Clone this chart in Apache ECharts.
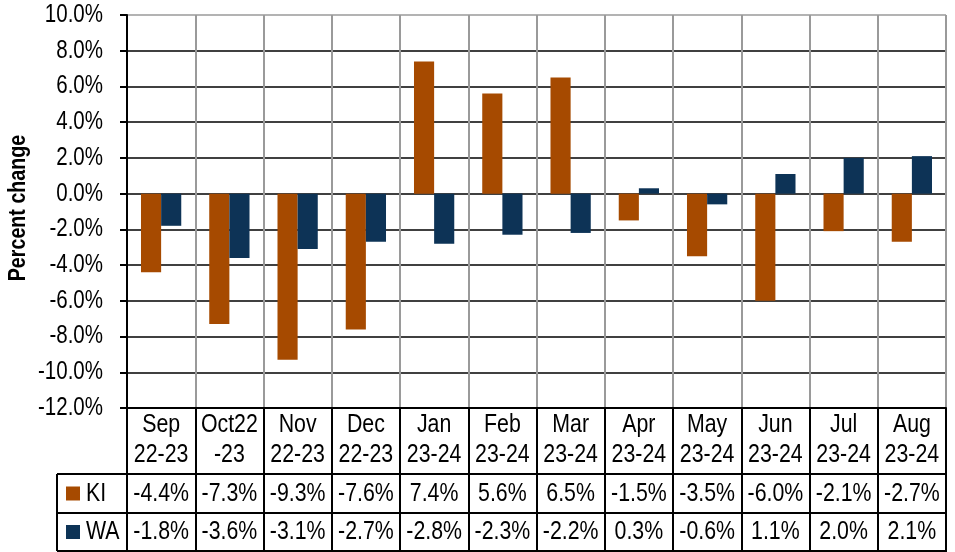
<!DOCTYPE html>
<html>
<head>
<meta charset="utf-8">
<script src="https://cdn.jsdelivr.net/npm/echarts@6/dist/echarts.min.js"></script>
<style>html,body{margin:0;padding:0;background:#fff}#c{width:955px;height:552px}</style>
</head>
<body>
<div id="c"></div>
<script>
const categories = ['Sep\n22-23','Oct22\n-23','Nov\n22-23','Dec\n22-23','Jan\n23-24','Feb\n23-24','Mar\n23-24','Apr\n23-24','May\n23-24','Jun\n23-24','Jul\n23-24','Aug\n23-24'];
const kiValues = [-4.4,-7.3,-9.3,-7.6,7.4,5.6,6.5,-1.5,-3.5,-6.0,-2.1,-2.7];
const waValues = [-1.8,-3.6,-3.1,-2.7,-2.8,-2.3,-2.2,0.3,-0.6,1.1,2.0,2.1];
const seriesNames = ['KI','WA'];
const yTitle = 'Percent change';
const colors = ['#A64A00','#0D3356'];
const yMin = -12, yMax = 10, yStep = 2;

const FONT = '"Liberation Sans", Arial, sans-serif';
const NARROW = 0.82; // reference uses a narrow sans face
const fmt = v => v.toFixed(1) + '%';
const splitColors = [];
for (let v = yMin; v <= yMax; v += yStep) splitColors.push(v === yMax ? '#9a9a9a' : '#000');

const chart = echarts.init(document.getElementById('c'));
chart.setOption({
  animation: false,
  backgroundColor: '#fff',
  grid: {left: 127, right: 9, top: 15, bottom: 144, containLabel: false, outerBoundsMode: 'none'},
  xAxis: {
    type: 'category', data: categories, position: 'bottom',
    axisLine: {show: true, onZero: false, lineStyle: {color: '#000', width: 2}},
    axisTick: {show: true, inside: false, length: 143, interval: 0, lineStyle: {color: '#000', width: 2}},
    splitLine: {show: true, interval: 0, lineStyle: {color: '#9a9a9a', width: 2}},
    axisLabel: {show: false}
  },
  yAxis: {
    type: 'value', min: yMin, max: yMax, interval: yStep,
    axisLine: {show: true, lineStyle: {color: '#000', width: 2}},
    axisTick: {show: true, inside: false, length: 7, lineStyle: {color: '#000', width: 2}},
    axisLabel: {show: false},
    splitLine: {show: true, lineStyle: {color: splitColors, width: 1.5}}
  },
  series: [
    {name: seriesNames[0], type: 'bar', data: kiValues, barGap: '0%', barCategoryGap: '41%', itemStyle: {color: colors[0]}},
    {name: seriesNames[1], type: 'bar', data: waValues, barGap: '0%', barCategoryGap: '41%', itemStyle: {color: colors[1]}}
  ]
});

function txt(text, x, y, size, align, extra) {
  return Object.assign({
    type: 'text', x: x, y: y, scaleX: NARROW, silent: true,
    style: {text: text, fontSize: size, fontFamily: FONT, fill: '#000', align: align, verticalAlign: 'middle'}
  }, extra || {});
}

const c0 = chart.convertToPixel({xAxisIndex: 0}, 0);
const c1 = chart.convertToPixel({xAxisIndex: 0}, 1);
const band = c1 - c0;
const xLeft = c0 - band / 2;
const xRight = xLeft + band * categories.length;
const yBase = chart.convertToPixel({yAxisIndex: 0}, yMin);
const rowTops = [yBase + 66, yBase + 105, yBase + 143];
const tableLeft = 57;
const g = [];

// y tick labels
for (let v = yMin; v <= yMax + 1e-9; v += yStep) {
  g.push(txt(fmt(v), xLeft - 24, chart.convertToPixel({yAxisIndex: 0}, v), 25, 'right'));
}
// y title
g.push({
  type: 'text', x: 18, y: 208, rotation: Math.PI / 2, scaleX: NARROW, silent: true,
  style: {text: yTitle, fontSize: 24, fontWeight: 'bold', fontFamily: FONT, fill: '#000', align: 'center', verticalAlign: 'middle'}
});
// header and value rows
categories.forEach((cat, i) => {
  const cx = chart.convertToPixel({xAxisIndex: 0}, i);
  const lines = cat.split('\n');
  g.push(txt(lines[0], cx, yBase + 17, 26, 'center'));
  g.push(txt(lines[1], cx, yBase + 47, 26, 'center'));
  g.push(txt(fmt(kiValues[i]), cx, (rowTops[0] + rowTops[1]) / 2, 26, 'center'));
  g.push(txt(fmt(waValues[i]), cx, (rowTops[1] + rowTops[2]) / 2, 26, 'center'));
});
// table borders
rowTops.forEach(y => g.push({type: 'line', shape: {x1: tableLeft, y1: y, x2: xRight + 1, y2: y}, style: {stroke: '#000', lineWidth: 2}}));
g.push({type: 'line', shape: {x1: tableLeft, y1: rowTops[0], x2: tableLeft, y2: rowTops[2]}, style: {stroke: '#000', lineWidth: 2}});
// legend keys
seriesNames.forEach((name, i) => {
  const mid = (rowTops[i] + rowTops[i + 1]) / 2;
  g.push({type: 'rect', shape: {x: 66, y: mid - 7, width: 14, height: 14}, style: {fill: colors[i]}});
  g.push(txt(name, 86, mid, 26, 'left'));
});
chart.setOption({graphic: g});
</script>
</body>
</html>
